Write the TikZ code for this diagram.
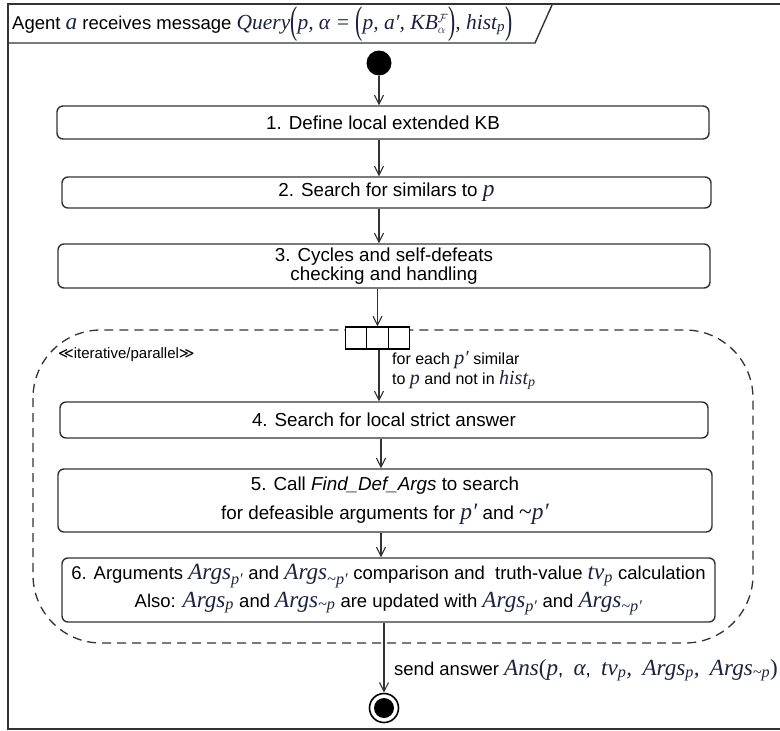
\documentclass[tikz,border=0pt]{standalone}
\usepackage{graphicx}
\usepackage{fontspec}
\setmainfont{Liberation Sans}
\newfontfamily\mserif{Liberation Serif}[Scale=1.25]
\newfontfamily\dejavu{DejaVu Sans}
\usetikzlibrary{arrows.meta}
\definecolor{lc}{HTML}{333333}
\definecolor{mc}{HTML}{1C2240}
\newcommand\mi[1]{{\color{mc}\mserif\itshape #1}}
\newcommand\sbs[1]{\textsubscript{\mi{#1}}}
\newcommand\mytld{{\mserif\textasciitilde}}
\newcommand\bigop[1]{\raisebox{-0.42ex}{\scalebox{1}[1.8]{\upshape #1}}}
\tikzset{
  stepbox/.style={draw=lc, line width=1.4pt, rounded corners=6pt, align=center, inner sep=0pt, font=\fontsize{18.8}{21}\selectfont},
  arr/.style={draw=lc, line width=1.3pt, -{Straight Barb[length=9pt,width=9pt,line width=1.1pt]}},
  forkbox/.style={draw=black, fill=white, line width=1.2pt, minimum width=21.5pt, minimum height=22pt, inner sep=0pt},
}
\begin{document}
\begin{tikzpicture}[x=1pt,y=-1pt]
\useasboundingbox (0,0) rectangle (780,731);
% frame
\draw[lc, line width=1.8pt] (785,4) -- (8,4) -- (8,729) -- (785,729);
% title
\draw[lc, line width=1.4pt] (8,43) -- (535,43) -- (552,5);
\node[anchor=west, inner sep=0pt, font=\fontsize{18.5}{20}\selectfont] (title) at (12,24)
  {Agent \mi{a} receives message {\fontsize{17.2}{20}\selectfont\color{mc}\mserif\itshape Query\bigop{(}p, α = \bigop{(}p, a′, KB${}^{\mathcal F}_{\alpha}$\bigop{)}, hist\textsubscript{p}\bigop{)}}};
% start
\node[circle, fill=black, minimum size=25pt, inner sep=0pt] (start) at (379,63) {};
\coordinate (ax) at (379,0);
% boxes
\node[stepbox, minimum width=652pt, minimum height=33pt] (b1) at (383,122.5) {1. Define local extended KB};
\node[stepbox, minimum width=649pt, minimum height=31pt] (b2) at (386.5,192.5) {2. Search for similars to \mi{p}};
\node[stepbox, minimum width=652pt, minimum height=44pt] (b3) at (384,266) {3. Cycles and self-defeats\\[-2pt]checking and handling};
% dashed region
\draw[lc, line width=1.3pt, dash pattern=on 9pt off 6pt, rounded corners=68pt] (33,330) rectangle (753,643);
\node[anchor=west, inner sep=0pt, font=\fontsize{15}{16}\selectfont] (iter) at (58,355) {{\dejavu ≪}iterative/parallel{\dejavu ≫}};
% fork bar
\node[forkbox] (f1) at (356,338) {};
\node[forkbox] (f2) at (377.5,338) {};
\node[forkbox] (f3) at (399,338) {};
\node[anchor=north west, align=left, inner sep=0pt, font=\fontsize{16}{20}\selectfont] (each) at (392,351)
  {for each \mi{p′} similar\\to \mi{p} and not in \mi{hist}\sbs{p}};
\node[stepbox, minimum width=648pt, minimum height=36pt] (b4) at (384,420) {4. Search for local strict answer};
\node[stepbox, minimum width=654pt, minimum height=63pt] (b5) at (385,500.5)
  {5. Call \textit{Find\_Def\_Args} to search\\[8pt]for defeasible arguments for \mi{p′} and \mytld\mi{p′}};
\node[stepbox, minimum width=653pt, minimum height=64pt, font=\fontsize{18.5}{21}\selectfont] (b6) at (388.5,590)
  {6. Arguments \mi{Args}\sbs{p′} and \mi{Args}\sbs{\mytld p′} comparison and\ \ truth-value \mi{tv}\sbs{p} calculation\\[3pt]Also: \mi{Args}\sbs{p} and \mi{Args}\sbs{\mytld p} are updated with \mi{Args}\sbs{p′} and \mi{Args}\sbs{\mytld p′}};
% end
\node[circle, draw=black, line width=1.6pt, minimum size=29pt, inner sep=0pt] (end) at (384,708) {};
\fill[black] (end.center) circle (10pt);
\node[anchor=west, inner sep=0pt, font=\fontsize{18.5}{20}\selectfont] (send) at (394,670)
  {send answer \mi{Ans}{\color{mc}\mserif(}\mi{p},\ \ \mi{α},\ \ \mi{tv}\sbs{p}\mi{,}\ \ \mi{Args}\sbs{p}\mi{,}\ \ \mi{Args}\sbs{\mytld p}{\color{mc}\mserif)}};
% connectors
\draw[arr] (start) -- (ax |- b1.north);
\draw[arr] (ax |- b1.south) -- (ax |- b2.north);
\draw[arr] (ax |- b2.south) -- (ax |- b3.north);
\draw[arr] (f2.north |- b3.south) -- (f2.north);
\draw[arr] (f2.south -| ax) -- (ax |- b4.north);
\coordinate (bx) at (381,0);
\draw[arr] (bx |- b4.south) -- (bx |- b5.north);
\draw[arr] (bx |- b5.south) -- (bx |- b6.north);
\draw[arr] (b6.south -| end) -- (end.north);
\end{tikzpicture}
\end{document}
